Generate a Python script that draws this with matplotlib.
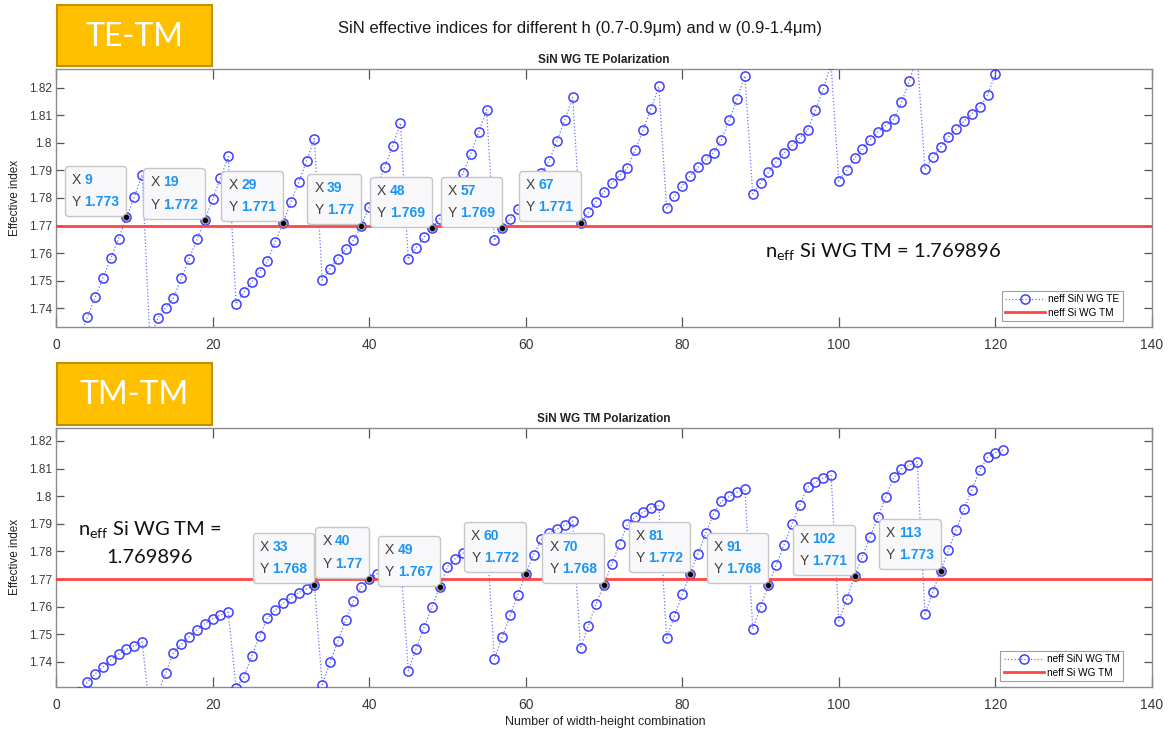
import numpy as np
import matplotlib
matplotlib.use("Agg")
import matplotlib.pyplot as plt
from matplotlib.patches import Rectangle
from matplotlib.offsetbox import TextArea, HPacker, VPacker, AnnotationBbox
from matplotlib.ticker import FuncFormatter

plt.rcParams['font.family'] = ['Liberation Sans', 'DejaVu Sans']
plt.rcParams['mathtext.fontset'] = 'custom'
plt.rcParams['mathtext.rm'] = 'Lato'
plt.rcParams['mathtext.it'] = 'Lato:italic'

# ---------------- data ----------------
combo = np.arange(1, 122)

neff_te = [
    1.7150, 1.7220, 1.7290, 1.7368, 1.7440, 1.7510, 1.7582, 1.7652, 1.7730, 1.7803, 1.7884,
    1.7290, 1.7364, 1.7402, 1.7437, 1.7508, 1.7579, 1.7650, 1.7720, 1.7795, 1.7871, 1.7951,
    1.7416, 1.7458, 1.7495, 1.7532, 1.7570, 1.7642, 1.7710, 1.7784, 1.7857, 1.7934, 1.8015,
    1.7502, 1.7543, 1.7580, 1.7614, 1.7647, 1.7700, 1.7768, 1.7840, 1.7914, 1.7989, 1.8072,
    1.7578, 1.7619, 1.7657, 1.7690, 1.7724, 1.7770, 1.7830, 1.7891, 1.7961, 1.8039, 1.8120,
    1.7646, 1.7690, 1.7724, 1.7759, 1.7794, 1.7840, 1.7890, 1.7935, 1.8008, 1.8083, 1.8165,
    1.7710, 1.7748, 1.7787, 1.7822, 1.7853, 1.7882, 1.7909, 1.7975, 1.8048, 1.8123, 1.8205,
    1.7762, 1.7806, 1.7844, 1.7880, 1.7911, 1.7940, 1.7964, 1.8012, 1.8083, 1.8160, 1.8243,
    1.7815, 1.7856, 1.7893, 1.7932, 1.7963, 1.7991, 1.8018, 1.8045, 1.8118, 1.8195, 1.8285,
    1.7861, 1.7903, 1.7944, 1.7978, 1.8012, 1.8040, 1.8063, 1.8085, 1.8147, 1.8224, 1.8320,
    1.7904, 1.7947, 1.7986, 1.8021, 1.8051, 1.8079, 1.8106, 1.8129, 1.8174, 1.8251, 1.8330,
]

neff_tm = [
    1.7235, 1.7262, 1.7290, 1.7326, 1.7356, 1.7382, 1.7408, 1.7428, 1.7446, 1.7458, 1.7472,
    1.7220, 1.7285, 1.7358, 1.7433, 1.7463, 1.7491, 1.7516, 1.7538, 1.7555, 1.7570, 1.7580,
    1.7306, 1.7345, 1.7420, 1.7493, 1.7558, 1.7588, 1.7612, 1.7632, 1.7650, 1.7664, 1.7680,
    1.7318, 1.7398, 1.7475, 1.7550, 1.7620, 1.7672, 1.7700, 1.7719, 1.7739, 1.7757, 1.7772,
    1.7368, 1.7447, 1.7524, 1.7597, 1.7670, 1.7745, 1.7774, 1.7794, 1.7817, 1.7838, 1.7858,
    1.7411, 1.7490, 1.7568, 1.7643, 1.7720, 1.7788, 1.7844, 1.7867, 1.7881, 1.7896, 1.7910,
    1.7450, 1.7531, 1.7611, 1.7680, 1.7755, 1.7827, 1.7899, 1.7925, 1.7942, 1.7957, 1.7969,
    1.7486, 1.7566, 1.7645, 1.7720, 1.7791, 1.7866, 1.7936, 1.7981, 1.7999, 1.8015, 1.8025,
    1.7519, 1.7599, 1.7680, 1.7752, 1.7824, 1.7898, 1.7968, 1.8033, 1.8051, 1.8065, 1.8078,
    1.7548, 1.7628, 1.7710, 1.7781, 1.7853, 1.7926, 1.7997, 1.8068, 1.8099, 1.8113, 1.8125,
    1.7574, 1.7653, 1.7730, 1.7805, 1.7879, 1.7953, 1.8024, 1.8095, 1.8141, 1.8158, 1.8167,
]

neff_si_tm = 1.769896

te_tips = [9, 19, 29, 39, 48, 57, 67]
tm_tips = [33, 40, 49, 60, 70, 81, 91, 102, 113]

x_ticks = [0, 20, 40, 60, 80, 100, 120, 140]
y_ticks = [1.74, 1.75, 1.76, 1.77, 1.78, 1.79, 1.80, 1.81, 1.82]

# ---------------- figure ----------------
W, H = 1170, 734
fig = plt.figure(figsize=(W / 100, H / 100), dpi=100)
fig.patch.set_facecolor('white')


def fx(px):
    return px / W


def fy(py):
    return 1 - py / H


ax_top = fig.add_axes([fx(56), fy(327), fx(1096), 258 / H])
ax_bot = fig.add_axes([fx(56), fy(687), fx(1096), 259 / H])

blue = '#3f3fff'
red = '#ff3b3b'
spine_c = '#8a8a8a'
tick_c = '#3a3a3a'


def tip(ax, xv, yv):
    xs = f"{xv}"
    ys = f"{yv:.4g}"
    gray_p = dict(color='#404040', size=10)
    blue_p = dict(color='#1a95f5', size=10, weight='bold')
    r1 = HPacker(children=[TextArea("X", textprops=gray_p), TextArea(xs, textprops=blue_p)],
                 sep=2.5, pad=0, align='baseline')
    r2 = HPacker(children=[TextArea("Y", textprops=gray_p), TextArea(ys, textprops=blue_p)],
                 sep=2.5, pad=0, align='baseline')
    vb = VPacker(children=[r1, r2], sep=6, pad=0, align='left')
    ab = AnnotationBbox(vb, (xv, yv), xycoords='data', xybox=(-5.0, 6.0),
                        boxcoords='offset points', box_alignment=(1, 0),
                        frameon=True,
                        bboxprops=dict(boxstyle='round,pad=0.5,rounding_size=0.25',
                                       fc='#f8f8fb', ec='#c6c6c6', lw=1.0),
                        zorder=6)
    ax.add_artist(ab)
    ax.plot([xv], [yv], 'o', ms=4.6, color='black', mec='#9a9a9a', mew=0.8, zorder=7)


def style_axes(ax, ylim, title, series_label, vals, tips):
    ax.plot(combo, vals, linestyle=':', color='#7070ff', lw=0.9, marker='o', ms=6.6,
            mfc='none', mec=blue, mew=1.1, label=series_label, zorder=3)
    ax.axhline(neff_si_tm, color=red, lw=2.0, label='neff Si WG TM', zorder=4, alpha=0.95)
    vmap = dict(zip(combo.tolist(), vals))
    for t in tips:
        tip(ax, t, vmap[t])
    ax.set_xlim(0, 140)
    ax.set_ylim(*ylim)
    ax.set_xticks(x_ticks)
    ax.set_yticks(y_ticks)
    ax.yaxis.set_major_formatter(FuncFormatter(lambda v, p: f"{v:g}"))
    ax.tick_params(axis='x', direction='in', top=True, bottom=True, length=7.5, width=0.9,
                   color='#555555', labelsize=10, labelcolor=tick_c, pad=8)
    ax.tick_params(axis='y', direction='in', left=True, right=True, length=5.5, width=0.9,
                   color='#555555', labelsize=8.5, labelcolor=tick_c, pad=3)
    for s in ax.spines.values():
        s.set_color(spine_c)
        s.set_linewidth(1.0)
    ax.set_title(title, fontsize=8.5, fontweight='bold', color='#222222', pad=4)
    leg = ax.legend(loc='lower right', fontsize=7.2, frameon=True, fancybox=False,
                    edgecolor='#888888', handlelength=4.0, borderpad=0.35,
                    labelspacing=0.35, handletextpad=0.3, borderaxespad=0,
                    bbox_to_anchor=(0.9735, 0.023))
    leg.get_frame().set_linewidth(0.8)
    leg.set_zorder(8)


style_axes(ax_top, (1.7332, 1.8268), 'SiN WG TE Polarization', 'neff SiN WG TE', neff_te, te_tips)
style_axes(ax_bot, (1.7309, 1.8247), 'SiN WG TM Polarization', 'neff SiN WG TM', neff_tm, tm_tips)

# y labels
fig.text(fx(15), fy(198), 'Effective index', rotation=90, ha='center', va='center',
         fontsize=8.5, color='#222222')
fig.text(fx(15), fy(557), 'Effective index', rotation=90, ha='center', va='center',
         fontsize=8.5, color='#222222')
fig.text(fx(605), fy(722), 'Number of width-height combination', ha='center', va='center',
         fontsize=9, color='#222222')

# main title
fig.text(fx(580), fy(28), 'SiN effective indices for different h (0.7-0.9\u03bcm) and w (0.9-1.4\u03bcm)',
         ha='center', va='center', fontsize=12, color='#1a1a1a')

# orange label boxes
for (y0, y1, lab) in [(5, 66, 'TE-TM'), (363, 425, 'TM-TM')]:
    fig.add_artist(Rectangle((fx(57), fy(y1)), fx(155), (y1 - y0) / H,
                             transform=fig.transFigure, fc='#ffc000', ec='#c29100', lw=1.5,
                             zorder=5))
    fig.text(fx(134.5), fy((y0 + y1) / 2 + 1), lab, ha='center', va='center', fontsize=23,
             color='white', family='Lato', fontweight='normal', zorder=6)

# annotation texts
fig.text(fx(765), fy(257), r'n$_{\mathrm{eff}}$ Si WG TM = 1.769896', ha='left', va='baseline',
         fontsize=14.5, family='Lato', color='#111111', zorder=6)
fig.text(fx(150), fy(535), r'n$_{\mathrm{eff}}$ Si WG TM =', ha='center', va='baseline',
         fontsize=14.5, family='Lato', color='#111111', zorder=6)
fig.text(fx(150), fy(563), '1.769896', ha='center', va='baseline',
         fontsize=14.5, family='Lato', color='#111111', zorder=6)

fig.savefig('out.png', dpi=100)
